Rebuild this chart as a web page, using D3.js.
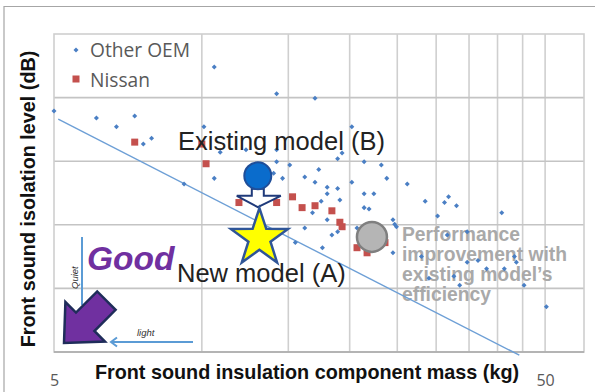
<!DOCTYPE html>
<html><head><meta charset="utf-8">
<script src="https://cdn.jsdelivr.net/npm/d3@7"></script>
<style>body{margin:0;background:#fff}svg{display:block}</style>
</head><body>
<svg id="c" width="595" height="392"></svg>
<script>
// ---- data ----
const otherOEM = [
 [5.0,3.79],[6.1,3.68],[6.7,3.54],[7.3,3.71],[7.6,3.27],[7.9,3.36],[9.2,2.64],
 [10.1,3.54],[10.6,4.48],[10.6,2.73],[10.9,3.14],[12.3,3.18],[14.0,2.81],[14.2,3.18],
 [14.2,4.06],[14.2,2.99],[14.6,2.73],[15.1,2.94],[15.5,1.72],[16.2,1.95],[16.2,2.75],
 [16.8,2.19],[17.0,3.99],[17.0,2.67],[17.3,2.87],[17.5,2.37],[17.6,1.64],[18.0,2.59],
 [18.0,2.49],[18.0,2.08],[18.4,1.84],[18.9,3.04],[18.9,2.57],[18.9,1.89],[19.1,2.39],
 [19.3,3.13],[20.2,3.54],[20.2,2.67],[20.7,1.95],[21.4,2.99],[21.4,2.49],[21.4,2.27],
 [21.9,2.25],[22.4,2.49],[23.2,2.94],[23.8,2.73],[24.5,2.08],[24.7,2.01],[24.9,1.97],
 [24.5,1.56],[26.2,2.64],[28.0,1.50],[28.5,2.37],[29.0,1.16],[30.2,2.14],[31.2,2.35],
 [31.6,1.84],[31.8,2.44],[32.6,1.19],[33.0,2.30],[33.5,1.05],[34.7,1.89],[34.7,1.41],
 [36.5,1.44],[38.0,1.31],[40.8,2.19],[41.3,1.31],[43.3,1.50],[43.7,1.41],[45.3,1.05],
 [50.3,0.71]
];
const nissan = [
 [7.3,3.30],[10.0,3.27],[10.2,2.96],[11.9,2.35],[14.2,2.35],[15.3,2.44],[16.0,2.27],
 [17.0,2.30],[18.4,2.22],[19.1,2.04],[19.3,1.97],[20.7,1.64],[21.7,1.56],[23.6,1.72]
];
const trendLine = [[5.1,3.66],[44.3,-0.05]];
const existingModel = [13.0,2.77];
const newModel = [13.1,1.79];
const improvedModel = [22.2,1.81];
const xTickLabels = [5,50];
const xGridValues = [10,15,20,25,30,35,40,45,50];
const yGridValues = [1,2,3,4];
const legendLabels = ["Other OEM","Nissan"];
const xTitle = "Front sound insulation component mass (kg)";
const yTitle = "Front sound isolation level (dB)";
const perfLines = ["Performance","improvement with","existing model\u2019s","efficiency"];

// ---- drawing ----
(function(){
const svg = d3.select("#c");
const W=595,H=392;
const x = d3.scaleLog().domain([5,60]).range([54,584]);
const y = d3.scaleLinear().domain([0,5]).range([352,34]);
const SANS="'Liberation Sans', Arial, sans-serif";
const UI="'Open Sans','Noto Sans',sans-serif";

svg.append("rect").attr("width",W).attr("height",H).attr("fill","#fff");
svg.append("path").attr("d",`M4,${H} V6.5 H${W}`).attr("fill","none").attr("stroke","#a6a6a6").attr("stroke-width",1.2);

const g = svg.append("g");
g.selectAll(".vg").data(xGridValues).join("line")
 .attr("x1",d=>x(d)).attr("x2",d=>x(d)).attr("y1",y(5)).attr("y2",y(0))
 .attr("stroke","#cfcfcf").attr("stroke-width",1.6);
g.selectAll(".hg").data(yGridValues).join("line")
 .attr("x1",x(5)).attr("x2",x(60)).attr("y1",d=>y(d)).attr("y2",d=>y(d))
 .attr("stroke","#c4c4c4").attr("stroke-width",1.6);
g.append("rect").attr("x",x(5)).attr("y",y(5)).attr("width",x(60)-x(5)).attr("height",y(0)-y(5))
 .attr("fill","none").attr("stroke","#cfcfcf").attr("stroke-width",1.6);
g.append("line").attr("x1",x(5)).attr("x2",x(60)).attr("y1",y(0)).attr("y2",y(0))
 .attr("stroke","#a8a8a8").attr("stroke-width",1.6);

perfLines.forEach((t,i)=>svg.append("text").attr("x",402).attr("y",241+i*20).text(t)
 .attr("font-family",SANS).attr("font-weight","bold").attr("font-size",19.3).attr("fill","#a9a9a9"));

svg.append("path").datum(trendLine)
 .attr("d",d3.line().x(d=>x(d[0])).y(d=>y(d[1])))
 .attr("fill","none").attr("stroke","#6d9fd6").attr("stroke-width",1.4);

const diamond = d3.symbol().type(d3.symbolDiamond2).size(16);
svg.append("g").selectAll("path").data(otherOEM).join("path")
 .attr("d",diamond).attr("transform",d=>`translate(${x(d[0])},${y(d[1])})`)
 .attr("fill","#4a7fc4");
svg.append("g").selectAll("rect").data(nissan).join("rect")
 .attr("x",d=>x(d[0])-3.5).attr("y",d=>y(d[1])-3.5).attr("width",7).attr("height",7)
 .attr("fill","#c4504d");

const lg = svg.append("g");
lg.append("path").attr("d",diamond).attr("transform","translate(76,50)").attr("fill","#4a7fc4");
lg.append("rect").attr("x",72.5).attr("y",75.5).attr("width",7).attr("height",7).attr("fill","#c4504d");
lg.selectAll("text").data(legendLabels).join("text")
 .attr("x",90).attr("y",(d,i)=>57+i*29.5).text(d=>d)
 .attr("font-family",UI).attr("font-size",19.2).attr("fill","#595959");

const bx=x(existingModel[0]), by=y(existingModel[1]);
const ax=x(newModel[0]), ay=y(newModel[1]);
const arrTop=by+13, arrTip=ay-31;
svg.append("path")
 .attr("d",`M${bx-6},${arrTop} H${bx+6} V${arrTop+7} H${bx+23} L${bx},${arrTip} L${bx-21},${arrTop+7} H${bx-6} Z`)
 .attr("fill","#fff").attr("stroke","#1f3a7a").attr("stroke-width",2).attr("stroke-linejoin","miter");
svg.append("circle").attr("cx",bx).attr("cy",by).attr("r",13.5)
 .attr("fill","#0a6ccc").attr("stroke","#1f4e99").attr("stroke-width",2);
const R=30, r=11.6;
const starPts=d3.range(10).map(i=>{const a=-Math.PI/2+i*Math.PI/5, rr=i%2?r:R;return [ax+rr*Math.cos(a), ay+rr*Math.sin(a)];});
svg.append("path").attr("d","M"+starPts.map(p=>p.join(",")).join("L")+"Z")
 .attr("fill","#ffff00").attr("stroke","#2f5597").attr("stroke-width",2.5).attr("stroke-linejoin","miter");
svg.append("circle").attr("cx",x(improvedModel[0])).attr("cy",y(improvedModel[1])).attr("r",15)
 .attr("fill","#b5b5b5").attr("stroke","#7f7f7f").attr("stroke-width",2.5);

svg.append("text").attr("x",178).attr("y",150).text("Existing model (B)")
 .attr("font-family",SANS).attr("font-size",25.5).attr("fill","#222");
svg.append("text").attr("x",177).attr("y",282).text("New model (A)")
 .attr("font-family",SANS).attr("font-size",25.5).attr("fill","#222");

svg.append("line").attr("x1",82).attr("x2",82).attr("y1",237).attr("y2",305)
 .attr("stroke","#5b9bd5").attr("stroke-width",2);
svg.append("line").attr("x1",193).attr("x2",112).attr("y1",342).attr("y2",342)
 .attr("stroke","#5b9bd5").attr("stroke-width",2);
svg.append("path").attr("d","M117,337.5 L111,342 L117,346.5").attr("fill","none")
 .attr("stroke","#5b9bd5").attr("stroke-width",2);
svg.append("text").attr("transform","translate(78,289) rotate(-90)").text("Quiet")
 .attr("font-family",SANS).attr("font-style","italic").attr("font-size",9.5).attr("fill","#333");
svg.append("text").attr("x",137).attr("y",336).text("light")
 .attr("font-family",SANS).attr("font-style","italic").attr("font-size",9.5).attr("fill","#333");
svg.append("path")
 .attr("d","M64,343 L65.4,302 L76,312.6 L97.2,291.4 L115.6,309.8 L94.4,331 L105,341.6 Z")
 .attr("fill","#7030a0").attr("stroke","#1f2d5a").attr("stroke-width",2.5).attr("stroke-linejoin","miter");
svg.append("text").attr("x",87).attr("y",270).text("Good")
 .attr("font-family",SANS).attr("font-weight","bold").attr("font-style","italic")
 .attr("font-size",33.5).attr("fill","#7030a0");

const xa = svg.append("g").attr("transform",`translate(0,${y(0)})`)
 .call(d3.axisBottom(x).tickValues(xTickLabels).tickSize(0).tickPadding(23).tickFormat(d3.format("d")));
xa.select(".domain").remove();
xa.selectAll("text").attr("font-family",UI).attr("font-size",16).attr("fill","#595959");

svg.append("text").attr("x",307).attr("y",379).attr("text-anchor","middle").text(xTitle)
 .attr("font-family",SANS).attr("font-weight","bold").attr("font-size",19.8).attr("fill","#111");
svg.append("text").attr("transform","translate(35,199) rotate(-90)").attr("text-anchor","middle").text(yTitle)
 .attr("font-family",SANS).attr("font-weight","bold").attr("font-size",19.8).attr("fill","#111");
})();
</script>
</body></html>
